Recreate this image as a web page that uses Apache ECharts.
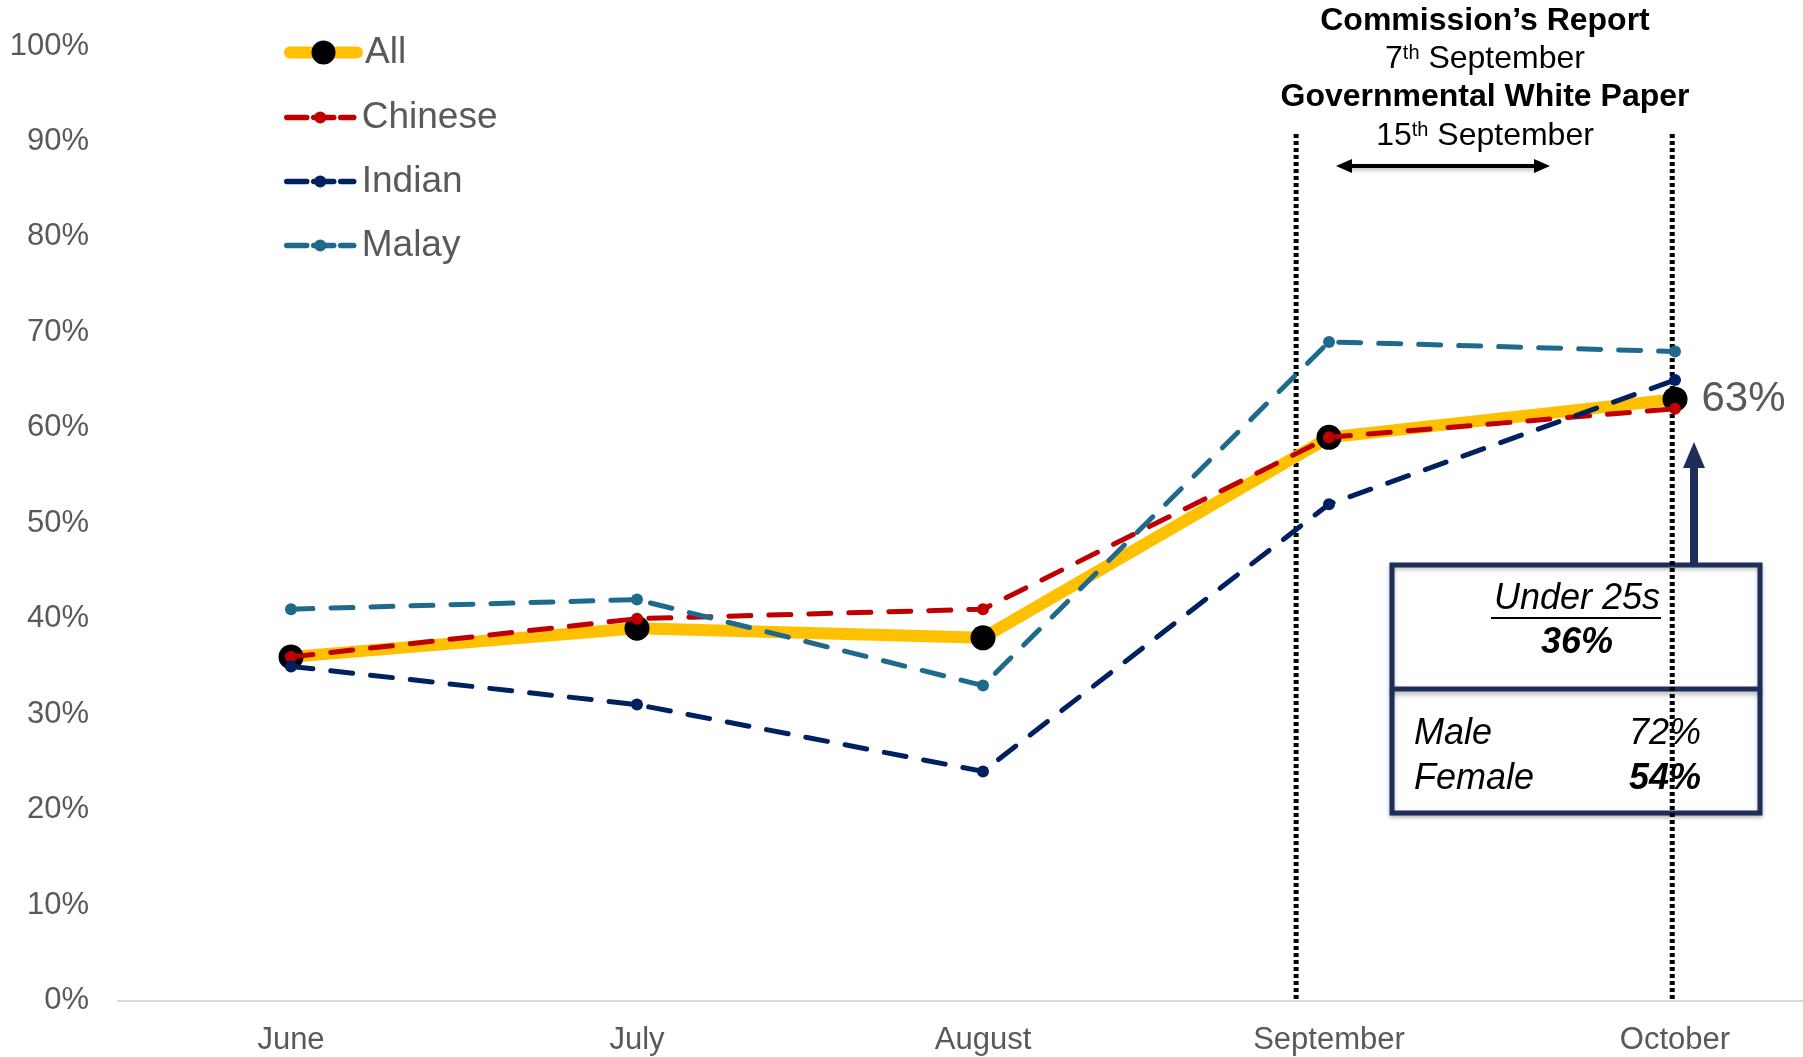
<!DOCTYPE html>
<html><head><meta charset="utf-8">
<script src="https://cdn.jsdelivr.net/npm/echarts@6/dist/echarts.min.js"></script>
<style>html,body{margin:0;padding:0;background:#fff}#c{width:1803px;height:1057px}</style>
</head><body><div id="c"></div>
<script>
const months = ['June', 'July', 'August', 'September', 'October'];
const allValues = [36, 39, 38, 59, 63];
const chineseValues = [36, 40, 41, 59, 62];
const indianValues = [35, 31, 24, 52, 65];
const malayValues = [41, 42, 33, 69, 68];
const yMin = 0, yMax = 100, yStep = 10;
const lastLabel = '63%';
const eventLines = ['Commission\u2019s Report', '7{sup|th} September', 'Governmental White Paper', '15{sup|th} September'];
const boxTitle = 'Under 25s';
const boxValue = '36%';
const genderRows = [['Male', '72%'], ['Female', '54%']];

const FONT = '"Liberation Sans", Arial, sans-serif';
const GREY = '#595959';
const NAVY = '#1F2D5B';
const COLORS = {All: '#FFC000', Chinese: '#C00000', Indian: '#002060', Malay: '#1F6A8C'};
const DASH = [22, 18];

const chart = echarts.init(document.getElementById('c'), null, {renderer: 'canvas'});
const dashed = (name, data) => ({
  name, type: 'line', data, z: 3,
  symbol: 'circle', symbolSize: 12,
  itemStyle: {color: COLORS[name]},
  lineStyle: {color: COLORS[name], width: 5, type: DASH, cap: 'round'}
});
const legendItem = (name) => ({name, lineStyle: {color: COLORS[name], width: 5.5, type: [20, 7], cap: 'round'}});
const lastIdx = allValues.length - 1;
chart.setOption({
  animation: false,
  backgroundColor: '#fff',
  grid: {left: 118, width: 1730, top: 46, bottom: 56.5, outerBoundsMode: 'none', containLabel: false},
  xAxis: {
    type: 'category', data: months, boundaryGap: true,
    axisLine: {lineStyle: {color: '#D9D9D9', width: 2}},
    axisTick: {show: false},
    axisLabel: {color: GREY, fontSize: 31, fontFamily: FONT, margin: 24}
  },
  yAxis: {
    type: 'value', min: yMin, max: yMax, interval: yStep,
    axisLine: {show: false}, axisTick: {show: false}, splitLine: {show: false},
    axisLabel: {color: GREY, fontSize: 31, fontFamily: FONT, margin: 29, formatter: '{value}%'}
  },
  legend: [
    {data: [{name: 'All', lineStyle: {color: COLORS.All, width: 12, cap: 'round'}}],
     orient: 'vertical', left: 284, top: 34, itemWidth: 67, itemHeight: 30,
     selectedMode: false, padding: 0,
     textStyle: {color: GREY, fontSize: 37, fontFamily: FONT, padding: [0, 0, 0, 3]}},
    {data: ['Chinese', 'Indian', 'Malay'].map(legendItem),
     orient: 'vertical', left: 284, top: 99, itemWidth: 67, itemHeight: 15,
     itemGap: 27, selectedMode: false, padding: 0,
     textStyle: {color: GREY, fontSize: 37, fontFamily: FONT, padding: [0, 0, 0, 3]}}
  ],
  series: [
    {
      name: 'All', type: 'line', z: 2,
      data: allValues.map((v, i) => i === lastIdx ? {value: v, label: {show: true}} : v),
      symbol: 'circle', symbolSize: 25,
      itemStyle: {color: '#000'},
      lineStyle: {color: COLORS.All, width: 12, cap: 'round', join: 'round'},
      label: {show: false, position: 'right', distance: 14, formatter: lastLabel,
              color: GREY, fontSize: 42, fontFamily: FONT}
    },
    dashed('Chinese', chineseValues),
    dashed('Indian', indianValues),
    dashed('Malay', malayValues)
  ]
});

const sepX = chart.convertToPixel({xAxisIndex: 0}, 'September');
const octX = chart.convertToPixel({xAxisIndex: 0}, 'October');
const band = octX - sepX;
const y0 = chart.convertToPixel({yAxisIndex: 0}, 0);
const dotted = {stroke: '#000', lineWidth: 5, lineDash: [4, 3]};
const txt = (x, y, text, extra) => ({type: 'text', x, y, silent: true,
  style: Object.assign({text, fill: '#000', font: '32px ' + FONT, align: 'center', verticalAlign: 'middle'}, extra)});
const richSup = {sup: {fontSize: 20, fontFamily: FONT, fill: '#000', verticalAlign: 'top', lineHeight: 32, padding: [0, 0, 10, 0]}};
const cx = 1485;
const graphics = [
  {type: 'line', silent: true, shape: {x1: sepX - 0.095 * band, y1: 134, x2: sepX - 0.095 * band, y2: y0}, style: dotted, z: 1},
  {type: 'line', silent: true, shape: {x1: octX - 0.008 * band, y1: 134, x2: octX - 0.008 * band, y2: y0}, style: dotted, z: 1},
  txt(cx, 21, eventLines[0], {font: 'bold 32px ' + FONT}),
  txt(cx, 59, eventLines[1], {font: '32px ' + FONT, rich: richSup}),
  txt(cx, 97, eventLines[2], {font: 'bold 32px ' + FONT}),
  txt(cx, 136, eventLines[3], {font: '32px ' + FONT, rich: richSup}),
  // double arrow
  {type: 'line', silent: true, shape: {x1: 1348, y1: 166, x2: 1538, y2: 166}, style: {stroke: '#000', lineWidth: 4, shadowBlur: 4, shadowColor: 'rgba(0,0,0,0.3)', shadowOffsetY: 2}},
  {type: 'polygon', silent: true, shape: {points: [[1336, 166], [1352, 159], [1352, 173]]}, style: {fill: '#000'}},
  {type: 'polygon', silent: true, shape: {points: [[1550, 166], [1534, 159], [1534, 173]]}, style: {fill: '#000'}},
  // up arrow
  {type: 'rect', silent: true, shape: {x: 1690, y: 465, width: 8, height: 102}, style: {fill: NAVY}},
  {type: 'polygon', silent: true, shape: {points: [[1683, 468], [1705, 468], [1694, 442]]}, style: {fill: NAVY}},
  // box
  {type: 'rect', silent: true, shape: {x: 1392, y: 565, width: 368, height: 248},
   style: {fill: '#fff', stroke: NAVY, lineWidth: 5, shadowBlur: 4, shadowColor: 'rgba(0,0,0,0.25)', shadowOffsetY: 2}},
  {type: 'line', silent: true, shape: {x1: 1392, y1: 689, x2: 1760, y2: 689},
   style: {stroke: NAVY, lineWidth: 5, shadowBlur: 5, shadowColor: 'rgba(0,0,0,0.3)', shadowOffsetY: 3}},
  txt(1577, 599, boxTitle, {font: 'italic 36px ' + FONT}),
  {type: 'line', silent: true, shape: {x1: 1491, y1: 618, x2: 1661, y2: 618}, style: {stroke: '#000', lineWidth: 2}},
  txt(1577, 643, boxValue, {font: 'italic bold 36px ' + FONT}),
  txt(1414, 734, genderRows[0][0], {font: 'italic 36px ' + FONT, align: 'left'}),
  txt(1701, 734, genderRows[0][1], {font: 'italic 36px ' + FONT, align: 'right'}),
  txt(1414, 779, genderRows[1][0], {font: 'italic 36px ' + FONT, align: 'left'}),
  txt(1701, 779, genderRows[1][1], {font: 'italic bold 36px ' + FONT, align: 'right'})
];
chart.setOption({graphic: graphics});
</script></body></html>
